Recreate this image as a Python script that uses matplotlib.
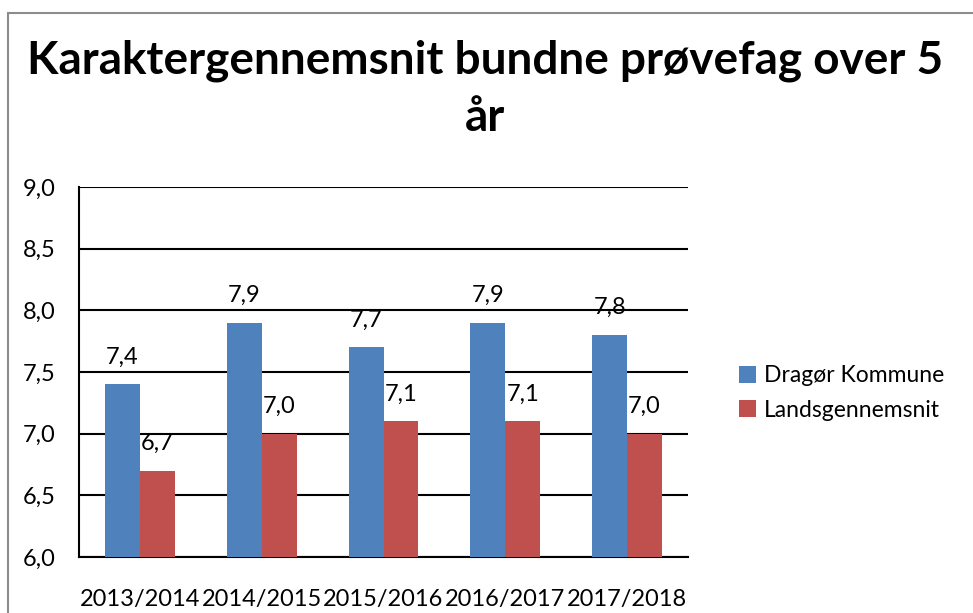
import matplotlib
matplotlib.use("Agg")
import matplotlib.pyplot as plt
from matplotlib.patches import Rectangle
import numpy as np

categories = ["2013/2014", "2014/2015", "2015/2016", "2016/2017", "2017/2018"]
dragor = [7.4, 7.9, 7.7, 7.9, 7.8]
lands = [6.7, 7.0, 7.1, 7.1, 7.0]
series_names = ["Dragør Kommune", "Landsgennemsnit"]
yticks = [6.0, 6.5, 7.0, 7.5, 8.0, 8.5, 9.0]

plt.rcParams['font.family'] = ['Lato', 'DejaVu Sans']

W, H = 973, 613
fig = plt.figure(figsize=(W / 100, H / 100), dpi=100)

# outer gray border
fig.patches.append(Rectangle((8 / W, -0.1), 1.2, (H - 13) / H + 0.1, transform=fig.transFigure,
                             fill=False, edgecolor="#8c8c8c", linewidth=1.5))

ax = fig.add_axes([79 / W, (H - 557) / H, (688 - 79) / W, (557 - 187) / H])

x = np.arange(len(categories))
bw = 0.287
c1 = "#4F81BD"
c2 = "#C0504D"
b1 = ax.bar(x - bw / 2, dragor, bw, color=c1, label=series_names[0], zorder=3)
b2 = ax.bar(x + bw / 2, lands, bw, color=c2, label=series_names[1], zorder=3)

for bars, vals in ((b1, dragor), (b2, lands)):
    for r, v in zip(bars, vals):
        ax.annotate(f"{v:.1f}".replace(".", ","), (r.get_x() + r.get_width() / 2, v),
                    xytext=(0, 12), textcoords="offset points", ha="center", va="bottom",
                    fontsize=17, color="black", zorder=4)

ax.set_xlim(-0.5, len(categories) - 0.5)
ax.set_ylim(6.0, 9.0)
ax.set_yticks(yticks)
ax.set_yticklabels([f"{t:.1f}".replace(".", ",") for t in yticks], fontsize=17)
ax.set_xticks(x)
ax.set_xticklabels(categories, fontsize=17)
ax.tick_params(axis="both", length=0)
ax.tick_params(axis="y", pad=17)
ax.tick_params(axis="x", pad=23)
ax.yaxis.grid(True, color="black", linewidth=1.5, zorder=0)
ax.set_axisbelow(True)
for s in ("top", "right"):
    ax.spines[s].set_visible(False)
for s in ("left", "bottom"):
    ax.spines[s].set_linewidth(1.5)
    ax.spines[s].set_color("black")

fig.text(485 / W, 1 - 61 / H, "Karaktergennemsnit bundne prøvefag over 5", ha="center", va="center",
         fontsize=33, fontweight="bold")
fig.text(485 / W, 1 - 118 / H, "år", ha="center", va="center", fontsize=33, fontweight="bold")

fig.legend(handles=[b1, b2], labels=series_names, loc="center left",
           bbox_to_anchor=(718 / W, 1 - 393 / H), frameon=False, fontsize=16.5,
           handlelength=0.75, handleheight=0.75, handletextpad=0.35, labelspacing=0.6)

fig.savefig("out.png", dpi=100)
